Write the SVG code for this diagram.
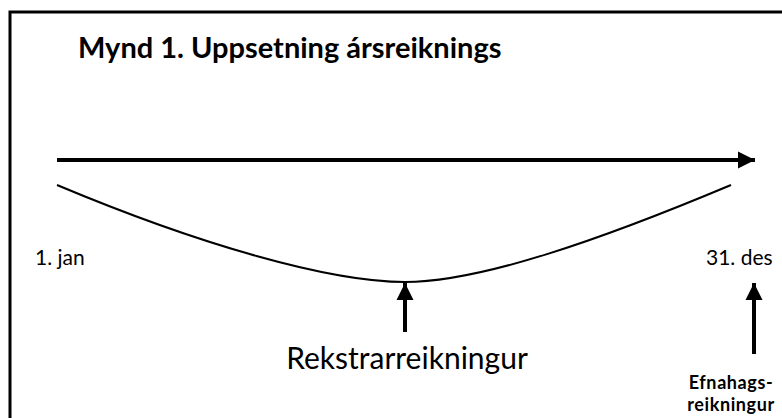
<svg xmlns="http://www.w3.org/2000/svg" width="782" height="418" viewBox="0 0 782 418">
<defs>
<style>
.t{font-family:Lato,"Open Sans","Liberation Sans",sans-serif;fill:#000}
.b{font-weight:bold}
.ln{stroke:#000;fill:none}
</style>
<marker id="ah" viewBox="0 0 10 10" refX="10" refY="5" markerWidth="4.3" markerHeight="4.3" orient="auto" markerUnits="strokeWidth">
<path d="M0,0 L10,5 L0,10 Z" fill="#000"/>
</marker>
</defs>
<rect x="10" y="12" width="800" height="450" fill="#fff" stroke="#000" stroke-width="3"/>
<g id="title"><text class="t b" x="78" y="58" font-size="29">Mynd 1. Uppsetning ársreiknings</text></g>
<g id="connectors">
<line class="ln" x1="57" y1="160" x2="755" y2="160" stroke-width="4" marker-end="url(#ah)"/>
<path class="ln" d="M57,185 C200,245 330,282 405,282 C480,282 600,240 731,185" stroke-width="2"/>
<line class="ln" x1="405" y1="332" x2="405" y2="283" stroke-width="4" marker-end="url(#ah)"/>
<line class="ln" x1="754" y1="354" x2="754" y2="283" stroke-width="4" marker-end="url(#ah)"/>
</g>
<g id="start"><text class="t" x="35" y="265" font-size="21">1. jan</text></g>
<g id="end"><text class="t" x="706" y="265" font-size="21">31. des</text></g>
<g id="rekstur"><text class="t" x="407" y="369" font-size="30" text-anchor="middle">Rekstrarreikningur</text></g>
<g id="efnahagur"><text class="t b" x="731" y="389" font-size="18" letter-spacing="0.6" text-anchor="middle">Efnahags-</text><text class="t b" x="731" y="411" font-size="18" letter-spacing="0.6" text-anchor="middle">reikningur</text></g>
</svg>
